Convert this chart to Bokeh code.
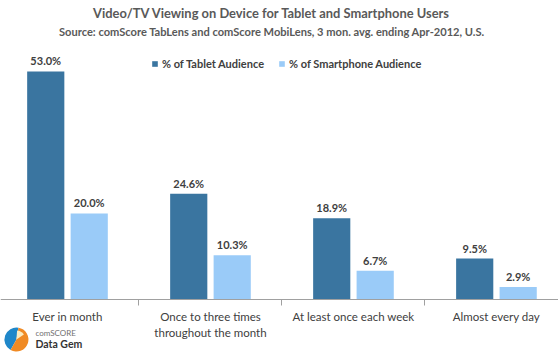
from bokeh.plotting import figure
from bokeh.models import (ColumnDataSource, Range1d, FixedTicker, Legend, LegendItem,
                          Label, LinearAxis)
from bokeh.transform import dodge
from bokeh.embed import file_html
from bokeh.resources import INLINE
from bokeh.core.properties import value

categories = ["Ever in month", "Once to three times\nthroughout the month",
              "At least once each week", "Almost every day"]
tablet = [53.0, 24.6, 18.9, 9.5]
smartphone = [20.0, 10.3, 6.7, 2.9]
series_names = ["% of Tablet Audience", "% of Smartphone Audience"]
title_text = "Video/TV Viewing  on Device for Tablet and Smartphone Users"
subtitle_text = "Source: comScore TabLens and comScore MobiLens, 3 mon. avg. ending Apr-2012, U.S."

FONT = "Lato"
DARK = "#3A75A0"
LIGHT = "#9ACBF8"
TXT = "#404040"

xs = list(range(len(categories)))
src = ColumnDataSource(dict(
    x=xs,
    tablet=tablet,
    smart=smartphone,
    tlab=[f"{v:.1f}%" for v in tablet],
    slab=[f"{v:.1f}%" for v in smartphone],
))

p = figure(width=558, height=354, output_backend="svg", toolbar_location=None,
           x_range=Range1d(-0.4685, 3.434), y_range=Range1d(-12.79, 69.5),
           x_axis_location=None, y_axis_location=None,
           min_border_left=0, min_border_right=0, min_border_top=0, min_border_bottom=0)
p.outline_line_color = None
p.xgrid.visible = False
p.ygrid.visible = False
p.background_fill_color = "white"

OFF = 0.152
W = 0.26
r1 = p.vbar(x=dodge("x", -OFF, range=p.x_range), top="tablet", width=W, source=src,
            fill_color=DARK, line_color=None)
r2 = p.vbar(x=dodge("x", OFF, range=p.x_range), top="smart", width=W, source=src,
            fill_color=LIGHT, line_color=None)

for col, lab, off in (("tablet", "tlab", -OFF), ("smart", "slab", OFF)):
    p.text(x=dodge("x", off, range=p.x_range), y=col, text=lab, source=src,
           text_align="center", text_baseline="bottom", y_offset=-4,
           text_font=value(FONT), text_font_style="bold", text_font_size="11px",
           text_color=TXT)

ax = LinearAxis(fixed_location=0)
ax.ticker = FixedTicker(ticks=xs, minor_ticks=[0.5, 1.5, 2.5])
ax.major_label_overrides = {i: c for i, c in zip(xs, categories)}
ax.major_tick_out = 0
ax.major_tick_in = 0
ax.minor_tick_in = 0
ax.minor_tick_out = 6
ax.minor_tick_line_color = "#A0A0A0"
ax.axis_line_color = "#A0A0A0"
ax.major_label_standoff = 5
ax.major_label_text_font = FONT
ax.major_label_text_font_size = "11.5px"
ax.major_label_text_color = TXT
p.add_layout(ax, "below")

legend = Legend(items=[LegendItem(label=series_names[0], renderers=[r1]),
                       LegendItem(label=series_names[1], renderers=[r2])],
                orientation="horizontal", location=(151, 284),
                glyph_width=7, glyph_height=7, label_standoff=4, spacing=14,
                padding=0, margin=0, label_height=14,
                label_text_font=FONT, label_text_font_style="bold",
                label_text_font_size="11px", label_text_color=TXT,
                border_line_color=None, background_fill_alpha=0)
p.add_layout(legend, "center")

p.add_layout(Label(x=1.44, y=66.5, text=title_text, text_align="center",
                   text_baseline="middle", text_font=FONT, text_font_style="bold",
                   text_font_size="12.9px", text_color="#595959"))
p.add_layout(Label(x=1.43, y=62.3, text=subtitle_text, text_align="center",
                   text_baseline="middle", text_font=FONT, text_font_style="bold",
                   text_font_size="11.1px", text_color="#595959"))

# comScore Data Gem logo (decoration)
lx, ly = -0.357, -9.3
p.wedge(x=[lx], y=[ly], radius=12, radius_units="screen", start_angle=1.4,
        end_angle=4.2, fill_color="#1F87C9", line_color=None)
p.wedge(x=[lx], y=[ly], radius=12, radius_units="screen", start_angle=4.2,
        end_angle=1.4 + 6.2832, fill_color="#F08A24", line_color=None)
p.wedge(x=[lx], y=[ly], radius=8, radius_units="screen", start_angle=0,
        end_angle=6.2832, fill_color="#F7C948", line_color=None)
p.wedge(x=[lx], y=[ly], radius=9, radius_units="screen", start_angle=0.6,
        end_angle=1.5, fill_color="#FBEBC0", line_color=None)
p.add_layout(Label(x=-0.224, y=-7.9, text="comSCORE", text_align="left",
                   text_baseline="middle", text_font=FONT,
                   text_font_size="8px", text_color="#707070"))
p.add_layout(Label(x=-0.224, y=-10.3, text="Data Gem", text_align="left",
                   text_baseline="middle", text_font=FONT, text_font_style="bold",
                   text_font_size="10.5px", text_color="#333333"))

open("out.html", "w").write(file_html(p, INLINE))
